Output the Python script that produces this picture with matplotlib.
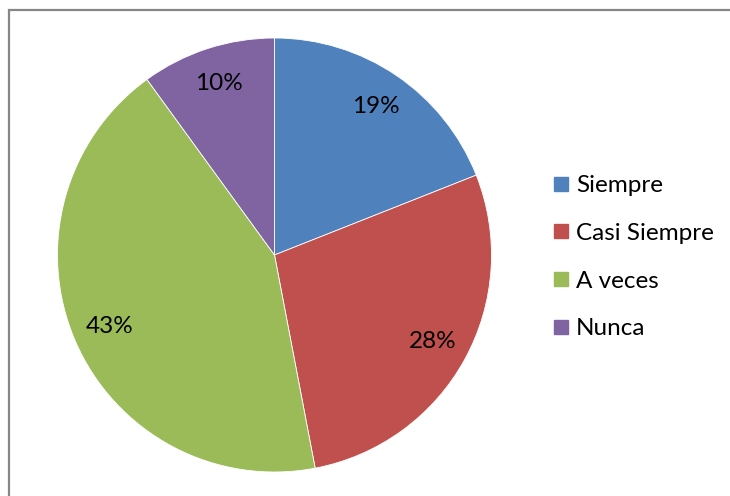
import matplotlib
matplotlib.use("Agg")
import matplotlib.pyplot as plt
from matplotlib.lines import Line2D
from matplotlib.patches import Rectangle

categories = ["Siempre", "Casi Siempre", "A veces", "Nunca"]
values = [19, 28, 43, 10]
colors = ["#4F81BD", "#C0504D", "#9BBB59", "#8064A2"]

plt.rcParams['font.family'] = ['Lato', 'DejaVu Sans']

W, H = 730, 496
fig = plt.figure(figsize=(W / 100, H / 100), dpi=100)

cx, cy, R = 274.5, 255, 217
ax = fig.add_axes([(cx - R) / W, (H - cy - R) / H, 2 * R / W, 2 * R / H])
wedges, texts, autotexts = ax.pie(
    values, colors=colors, startangle=90, counterclock=False,
    autopct=lambda p: f"{p:.0f}%", pctdistance=0.83,
    wedgeprops=dict(edgecolor="white", linewidth=0.6),
    textprops=dict(fontsize=17.5, color="black"),
)
ax.set_xlim(-1, 1)
ax.set_ylim(-1, 1)
ax.set_aspect("auto")
ax.axis("off")

handles = [Line2D([], [], marker="s", linestyle="none", markersize=9.5,
                  markerfacecolor=c, markeredgecolor=c) for c in colors]
fig.legend(handles, categories, loc="upper left",
           bbox_to_anchor=(542 / W, 1 - 163 / H), frameon=False,
           fontsize=17.5, handlelength=0.6, handletextpad=0.3,
           labelspacing=1.1, borderpad=0)

border = Rectangle((8.5 / W, -0.1), 1.5, 1 - 9.5 / H + 0.1, transform=fig.transFigure,
                   fill=False, edgecolor="#868686", linewidth=1.6, clip_on=False)
fig.patches.append(border)

fig.savefig("out.png", dpi=100, facecolor="white")
